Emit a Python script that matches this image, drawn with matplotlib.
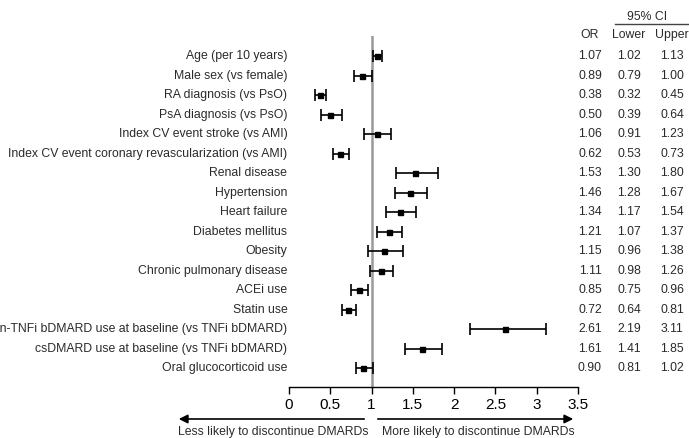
import numpy as np
import matplotlib.pyplot as plt
from matplotlib.transforms import blended_transform_factory

plt.rcParams['font.family'] = ['Liberation Sans', 'DejaVu Sans']

labels = ["Age (per 10 years)", "Male sex (vs female)", "RA diagnosis (vs PsO)",
          "PsA diagnosis (vs PsO)", "Index CV event stroke (vs AMI)",
          "Index CV event coronary revascularization (vs AMI)", "Renal disease",
          "Hypertension", "Heart failure", "Diabetes mellitus", "Obesity",
          "Chronic pulmonary disease", "ACEi use", "Statin use",
          "Non-TNFi bDMARD use at baseline (vs TNFi bDMARD)",
          "csDMARD use at baseline (vs TNFi bDMARD)", "Oral glucocorticoid use"]
odds = [1.07, 0.89, 0.38, 0.50, 1.06, 0.62, 1.53, 1.46, 1.34, 1.21, 1.15, 1.11,
        0.85, 0.72, 2.61, 1.61, 0.90]
lower = [1.02, 0.79, 0.32, 0.39, 0.91, 0.53, 1.30, 1.28, 1.17, 1.07, 0.96, 0.98,
         0.75, 0.64, 2.19, 1.41, 0.81]
upper = [1.13, 1.00, 0.45, 0.64, 1.23, 0.73, 1.80, 1.67, 1.54, 1.37, 1.38, 1.26,
         0.96, 0.81, 3.11, 1.85, 1.02]
xticks = [0, 0.5, 1, 1.5, 2, 2.5, 3, 3.5]

odds = np.array(odds); lower = np.array(lower); upper = np.array(upper)
rows = np.arange(len(labels))

W, H = 689, 438
fig = plt.figure(figsize=(W/100, H/100), dpi=100)
ax = fig.add_axes([289/W, (H-387)/H, (578-289)/W, (387-36)/H])

txtcol = '#2a2a2a'
fs = 8.8
ax.axvline(1, color='#999999', lw=1.8, zorder=1)
ax.errorbar(odds, rows, xerr=[odds-lower, upper-odds], fmt='s', color='black',
            ms=3.6, elinewidth=1.2, capsize=4, capthick=1.2, zorder=3)

ax.set_xlim(0, 3.5)
ax.set_ylim(16.97, -1.03)
ax.set_xticks(xticks)
ax.set_xticklabels(['0', '0.5', '1', '1.5', '2', '2.5', '3', '3.5'])
ax.set_yticks([])
for s in ['top', 'right', 'left']:
    ax.spines[s].set_visible(False)
ax.spines['bottom'].set_linewidth(1.0)
ax.tick_params(axis='x', direction='out', length=5, width=1.0, labelsize=11,
               colors='black', pad=3)

# labels on the left
for i, lab in enumerate(labels):
    ax.text(-0.02, i, lab, ha='right', va='center', fontsize=fs, color=txtcol,
            clip_on=False)

# table on the right
tr = blended_transform_factory(fig.transFigure, ax.transData)
colx = [590/W, 629/W, 672/W]
for i in rows:
    for cx, v in zip(colx, [odds[i], lower[i], upper[i]]):
        ax.text(cx, i, '%.2f' % v, transform=tr, ha='center', va='center',
                fontsize=fs, color=txtcol, clip_on=False)
hy = (H-35)/H
for cx, h in zip(colx, ['OR', 'Lower', 'Upper']):
    fig.text(cx, hy, h, ha='center', va='center', fontsize=fs, color=txtcol)
fig.text(647/W, (H-17)/H, '95% CI', ha='center', va='center', fontsize=fs,
         color=txtcol)
fig.add_artist(plt.Line2D([615/W, 1.0], [(H-24)/H]*2, color='#444444', lw=1.0))

# arrows below the axis
ay = (H-419)/H
fig.add_artist(plt.matplotlib.patches.FancyArrowPatch(
    (367/W, ay), (176/W, ay), transform=fig.transFigure, arrowstyle='-|>',
    mutation_scale=13, lw=1.2, color='black'))
fig.add_artist(plt.matplotlib.patches.FancyArrowPatch(
    (375/W, ay), (576/W, ay), transform=fig.transFigure, arrowstyle='-|>',
    mutation_scale=13, lw=1.2, color='black'))
fig.text(273/W, (H-432)/H, 'Less likely to discontinue DMARDs', ha='center',
         va='center', fontsize=fs, color=txtcol)
fig.text(478/W, (H-432)/H, 'More likely to discontinue DMARDs', ha='center',
         va='center', fontsize=fs, color=txtcol)

fig.savefig('out.png', dpi=100, facecolor='white')
